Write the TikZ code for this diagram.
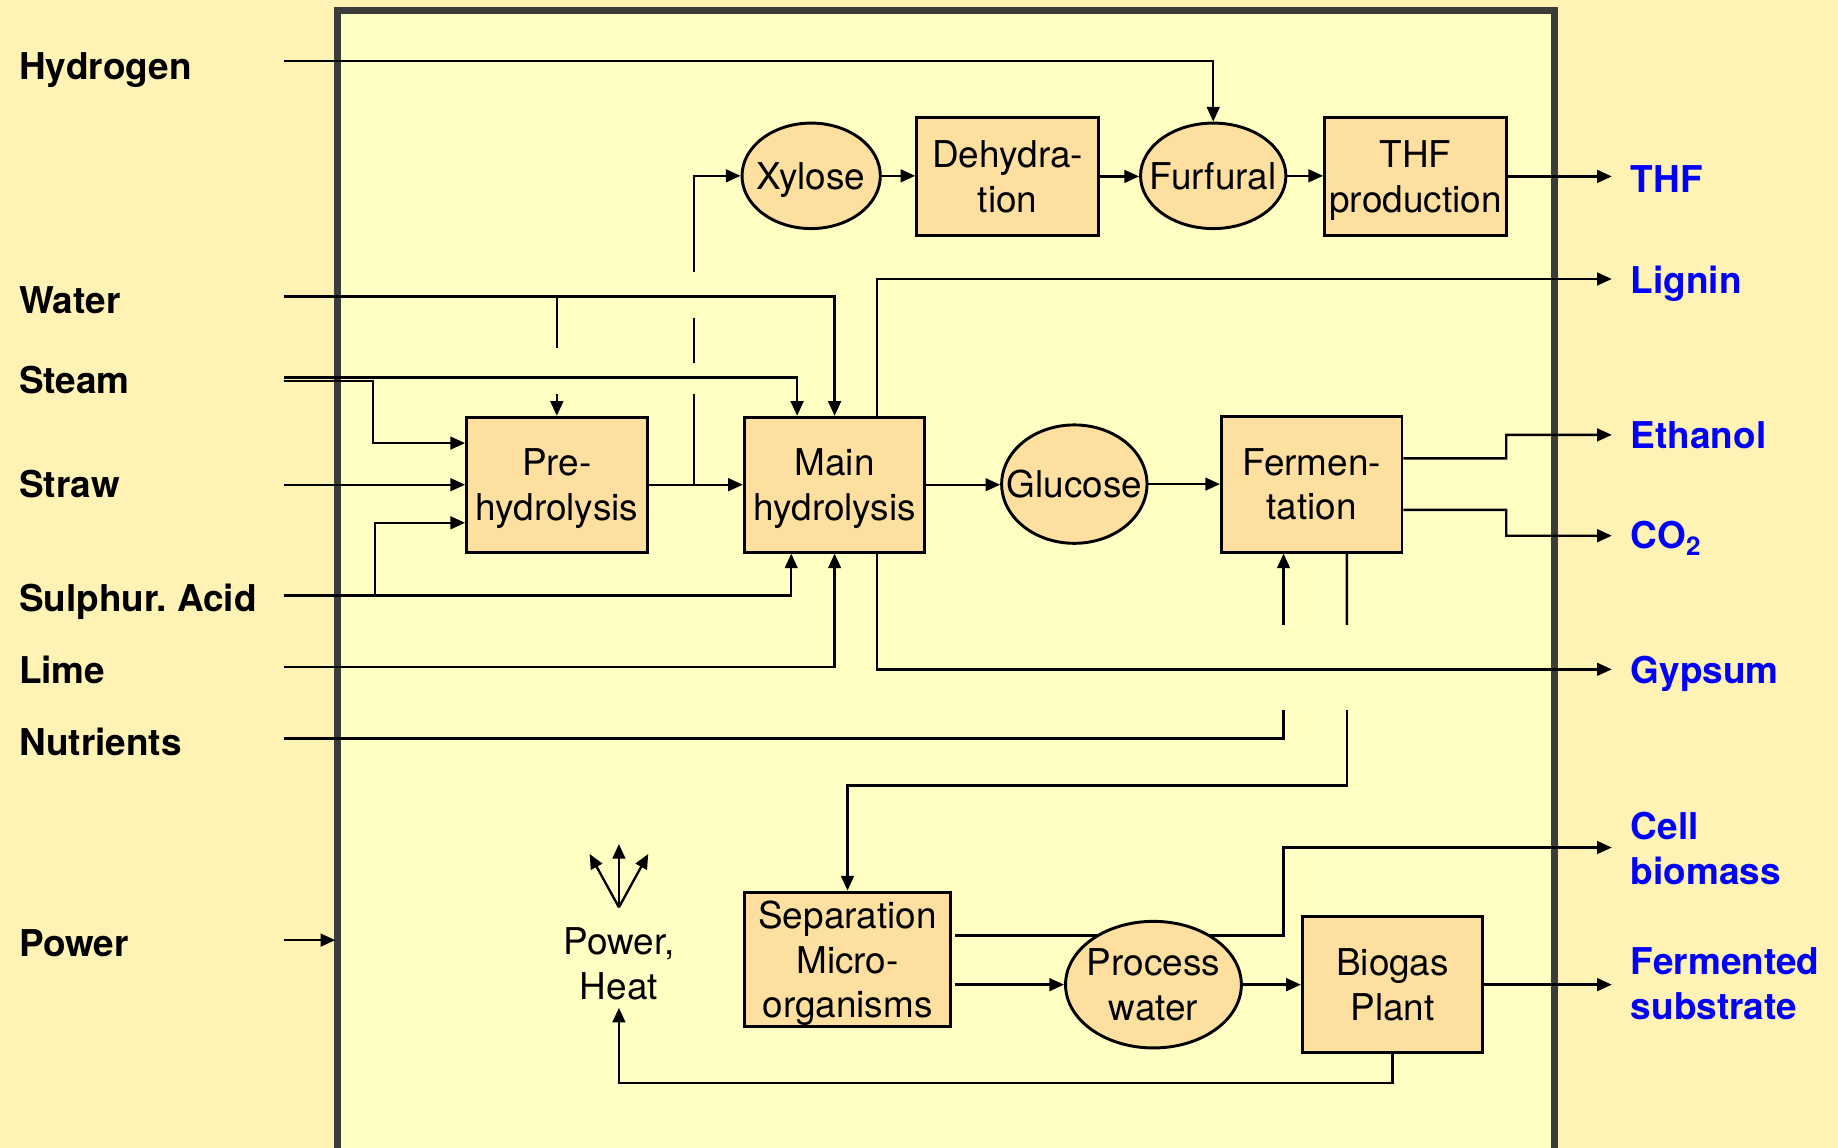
\documentclass[tikz,border=0pt]{standalone}
\usepackage{fontspec}
\setmainfont{TeX Gyre Heros}
\usetikzlibrary{arrows.meta,shapes.geometric}
\definecolor{outerbg}{HTML}{FFF2B5}
\definecolor{innerbg}{HTML}{FFFFC3}
\definecolor{nodefill}{HTML}{FDDFA0}
\definecolor{framecol}{HTML}{3C3C3C}
\definecolor{outblue}{HTML}{0000FF}
\newcommand{\myfnt}{\fontsize{18.9pt}{22.8pt}\selectfont}
\frenchspacing
\begin{document}
\begin{tikzpicture}[x=0.6pt,y=-0.6pt,
  flow/.style={line width=1.2pt,-{Triangle[length=7.5pt,width=6.5pt]}},
  plain/.style={line width=1.2pt},
  box/.style={draw,line width=1.5pt,fill=nodefill,align=center,inner sep=0pt,text depth=0pt,font=\myfnt},
  ell/.style={ellipse,draw,line width=1.5pt,fill=nodefill,align=center,inner xsep=-20pt,inner ysep=-12pt,text depth=0pt,font=\myfnt},
  inlabel/.style={anchor=base west,inner sep=0pt,font=\myfnt\bfseries},
  outlabel/.style={inner sep=0pt,font=\myfnt\bfseries,text=outblue,align=left}]
\fill[outerbg] (0,0) rectangle (1568,979);
\useasboundingbox (0,0) rectangle (1568,979);
\draw[framecol,line width=3.6pt,fill=innerbg] (288,9) rectangle (1326,1000);

% left labels
\node[inlabel] (lH) at (16,67.6) {Hydrogen};
\node[inlabel] (lW) at (16,267.7) {Water};
\node[inlabel] (lS) at (16,336) {Steam};
\node[inlabel] (lSt) at (16,424.4) {Straw};
\node[inlabel] (lSA) at (16,522) {Sulphur. Acid};
\node[inlabel] (lL) at (16,583) {Lime};
\node[inlabel] (lN) at (16,644.6) {Nutrients};
\node[inlabel] (lP) at (16,816) {Power};

% right labels
\node[outlabel,anchor=base west] (rTHF) at (1391,164) {THF};
\node[outlabel,anchor=base west] (rLig) at (1391,250) {Lignin};
\node[outlabel,anchor=base west] (rEth) at (1391,382.6) {Ethanol};
\node[outlabel,anchor=base west] (rCO) at (1391,467.5) {CO\textsubscript{2}};
\node[outlabel,anchor=base west] (rGyp) at (1391,583) {Gypsum};
\node[outlabel,anchor=west] (rCell) at (1391,724) {Cell\\biomass};
\node[outlabel,anchor=west] (rFS) at (1391,839) {Fermented\\substrate};

% coordinates
\coordinate (cH) at (242,52);
\coordinate (cW) at (242,253);
\coordinate (cS1) at (242,322);
\coordinate (cS2) at (242,325);
\coordinate (cSt) at (242,413.5);
\coordinate (cSA) at (242,508);
\coordinate (cL) at (242,569);
\coordinate (cN) at (242,630);
\coordinate (cP) at (242,802);
\coordinate (pF) at (286,802);
\coordinate (oTHF) at (1375,150);
\coordinate (oLig) at (1375,238);
\coordinate (oEth) at (1375,371);
\coordinate (oCO) at (1375,457);
\coordinate (oGyp) at (1375,571);
\coordinate (oCell) at (1375,723);
\coordinate (oFS) at (1375,840);

% nodes
\node[box,minimum width=92.4pt,minimum height=69pt] (pre) at (475,413.5) {Pre-\\hydrolysis};
\node[box,minimum width=92.4pt,minimum height=69pt] (main) at (712,413.5) {Main\\hydrolysis};
\node[ell,minimum width=70.8pt,minimum height=54pt] (xyl) at (692,150) {Xylose};
\node[box,minimum width=93pt,minimum height=60.6pt] (dehyd) at (859.5,150.5) {Dehydra-\\tion};
\node[ell,minimum width=74.4pt,minimum height=54pt] (furf) at (1035,150) {Furfural};
\node[box,minimum width=93pt,minimum height=60.6pt] (thf) at (1207.5,150.5) {THF\\production};
\node[ell,minimum width=74.4pt,minimum height=60.6pt] (gluc) at (916.5,413) {Glucose};
\node[box,minimum width=92.4pt,minimum height=69.6pt] (ferm) at (1119,413) {Fermen-\\tation};
\node[box,minimum width=105.6pt,minimum height=69pt] (sep) at (723,818.5) {Separation\\Micro-\\organisms};
\node[box,minimum width=92.4pt,minimum height=69.6pt] (bio) at (1188,840) {Biogas\\Plant};
\node[font=\myfnt,align=center,inner sep=0pt] (ph) at (528,822) {Power,\\Heat};

% cell biomass line (under process water)
\coordinate (cb0) at (815,798);
\coordinate (cbm) at (1095,798);
\draw[flow] (cb0) -- (cbm) |- (oCell);
\node[ell,minimum width=90pt,minimum height=64.8pt] (pw) at (984,840) {Process\\water};

% inputs
\draw[flow] (cH) -| (furf);
\draw[flow] (cW) -| (main);
\coordinate (wb1) at (475,253);
\coordinate (wb2) at (475,297);
\coordinate (wb3) at (475,336);
\draw[plain] (wb1) -- (wb2);
\draw[flow] (wb3) -- (pre);
\draw[flow] (cS1) -| ([xshift=-19.2pt]main.north);
\coordinate (sb) at (318,325);
\draw[flow] (cS2) -- (sb) |- ([yshift=21.3pt]pre.west);
\draw[flow] (cSt) -- (cSt -| pre.west);
\draw[flow] (cSA) -| ([xshift=-22.2pt]main.south);
\coordinate (sab) at (320,508);
\draw[flow] (sab) |- ([yshift=-19.5pt]pre.west);
\draw[flow] (cL) -| (main);
\coordinate (nb1) at (1095,606);
\coordinate (nb2) at (1095,533);
\draw[plain] (cN) -| (nb1);
\draw[flow] (nb2) -- (nb2 |- ferm.south);
\coordinate (fb1) at (1149,533);
\coordinate (fb2) at (1149,606);
\coordinate (fb3) at (1149,670);
\draw[plain] ([xshift=18pt]ferm.south) -- (fb1);
\draw[flow] (fb2) -- (fb3) -| (sep);
\draw[flow] (cP) -- (pF);

% main flow
\draw[flow] (pre) -- (main);
\coordinate (xb0) at (592,413.5);
\coordinate (xb1) at (592,336);
\coordinate (xb2) at (592,310);
\coordinate (xb3) at (592,271);
\coordinate (xb4) at (592,232);
\draw[plain] (xb0) -- (xb1);
\draw[plain] (xb2) -- (xb3);
\draw[flow] (xb4) |- (xyl);
\draw[flow] (xyl.east) -- (xyl.east -| dehyd.west);
\draw[flow] (dehyd.east) -- (dehyd.east -| furf.west);
\draw[flow] (furf.east) -- (furf.east -| thf.west);
\draw[flow] (thf.east) -- (thf.east -| oTHF);
\draw[flow] ([xshift=21.6pt]main.north) |- (oLig);
\draw[flow] ([xshift=21.6pt]main.south) |- (oGyp);
\draw[flow] (main.east) -- (main.east -| gluc.west);
\draw[flow] (gluc.east) -- (gluc.east -| ferm.west);
\coordinate (eb1) at (1285,391);
\coordinate (ob1) at (1285,435);
\draw[flow] ([yshift=13.2pt]ferm.east) -- (eb1) |- (oEth);
\draw[flow] ([yshift=-13.2pt]ferm.east) -- (ob1) |- (oCO);

% lower part
\coordinate (sp0) at (815,840);
\draw[flow] (sp0) -- (sp0 -| pw.west);
\draw[flow] (pw.east) -- (pw.east -| bio.west);
\draw[flow] (bio.east) -- (bio.east -| oFS);
\coordinate (bb) at (528,924);
\coordinate (phin) at ([yshift=-4pt]ph.south);
\draw[flow] (bio.south) -- (bio.south |- bb) -| (phin);
\coordinate (fan) at (528,774);
\coordinate (f1) at (528,720);
\coordinate (f2) at (503,728.5);
\coordinate (f3) at (553,728.5);
\draw[flow] (fan) -- (f1);
\draw[flow] (fan) -- (f2);
\draw[flow] (fan) -- (f3);
\end{tikzpicture}
\end{document}
